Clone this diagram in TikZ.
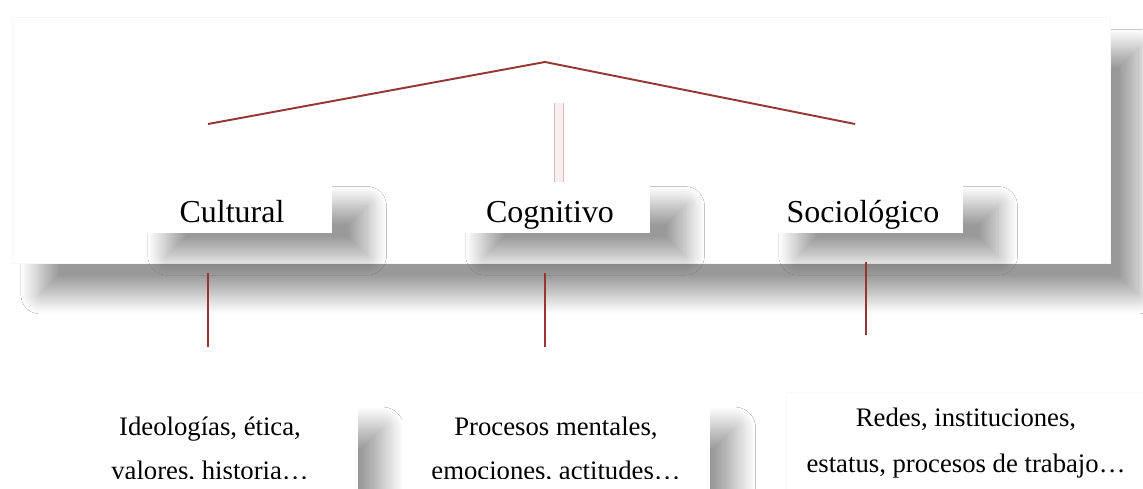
\documentclass[tikz,border=0pt]{standalone}
\usepackage{fontspec}
\setmainfont{Liberation Serif}
\usetikzlibrary{shadows.blur}

\definecolor{linkred}{RGB}{150,54,52}

\tikzset{
  panelbox/.style={fill=white,draw=gray!6,inner sep=0pt,
    blur shadow={shadow xshift=16pt,shadow yshift=-18pt,shadow blur radius=11pt,shadow blur steps=24}},
  headbox/.style={fill=white,inner sep=0pt,minimum width=4cm,minimum height=1cm,
    blur shadow={shadow xshift=20pt,shadow yshift=-13pt,shadow blur radius=11pt,shadow blur steps=24}},
  descbox/.style={fill=white,inner sep=0pt,
    blur shadow={shadow xshift=14pt,shadow yshift=-16pt,shadow blur radius=12pt,shadow blur steps=24}},
  headtext/.style={font=\fontsize{18.2}{22}\selectfont,inner sep=0pt},
  desctext/.style={font=\fontsize{15.2}{25}\selectfont,align=center,inner sep=0pt},
  linkline/.style={draw=linkred,line width=1.1pt},
  stemline/.style={draw=linkred,line width=0.9pt},
  ghostline/.style={draw=linkred!35,line width=0.6pt,double=linkred!8,double distance=4pt}
}

\begin{document}
\begin{tikzpicture}[x=0.02cm,y=-0.02cm]
  \useasboundingbox (0,0) rectangle (1143,489);
  \fill[white] (0,0) rectangle (1143,489);

  \node[panelbox,minimum width=21.96cm,minimum height=4.92cm] (panel) at (561,140) {};

  \coordinate (roofl) at (208,124);
  \coordinate (rooft) at (545,62);
  \coordinate (roofr) at (855,124);
  \draw[linkline] (roofl) -- (rooft) -- (roofr);

  \coordinate (ghosttop) at (559,103);
  \coordinate (ghostbot) at (559,182);
  \draw[ghostline] (ghosttop) -- (ghostbot);

  \node[headbox] (cultbox) at (232,208) {};
  \node[headbox] (cognbox) at (550,208) {};
  \node[headbox] (sociobox) at (863,208) {};

  \node[headtext,anchor=base] (cult) at (232,223) {Cultural};
  \node[headtext,anchor=base] (cogn) at (550,223) {Cognitivo};
  \node[headtext,anchor=base] (socio) at (863,223) {Sociológico};

  \coordinate (cultup) at (208,273);
  \coordinate (cultdown) at (208,347);
  \coordinate (cognup) at (545,273);
  \coordinate (cogndown) at (545,347);
  \coordinate (socioup) at (866,262);
  \coordinate (sociodown) at (866,335);
  \draw[stemline] (cultup) -- (cultdown);
  \draw[stemline] (cognup) -- (cogndown);
  \draw[stemline] (socioup) -- (sociodown);

  \node[descbox,minimum width=5.92cm,minimum height=2.8cm] (cultdesc) at (210,470) {};
  \node[descbox,minimum width=6.16cm,minimum height=2.8cm] (cogndesc) at (556,470) {};
  \node[fill=white,draw=gray!5,inner sep=0pt,minimum width=7.46cm,minimum height=2.94cm] (sociodesc) at (973,466) {};

  \begin{scope}
    \clip (0,0) rectangle (1143,479);
    \node[desctext] (culttext) at (210,450) {Ideologías, ética,\\valores, historia…};
    \node[desctext] (cogntext) at (556,450) {Procesos mentales,\\emociones, actitudes…};
  \end{scope}
  \node[desctext,font=\fontsize{15.2}{26}\selectfont] (sociotext) at (966,443) {Redes, instituciones,\\estatus, procesos de trabajo…};
\end{tikzpicture}
\end{document}
